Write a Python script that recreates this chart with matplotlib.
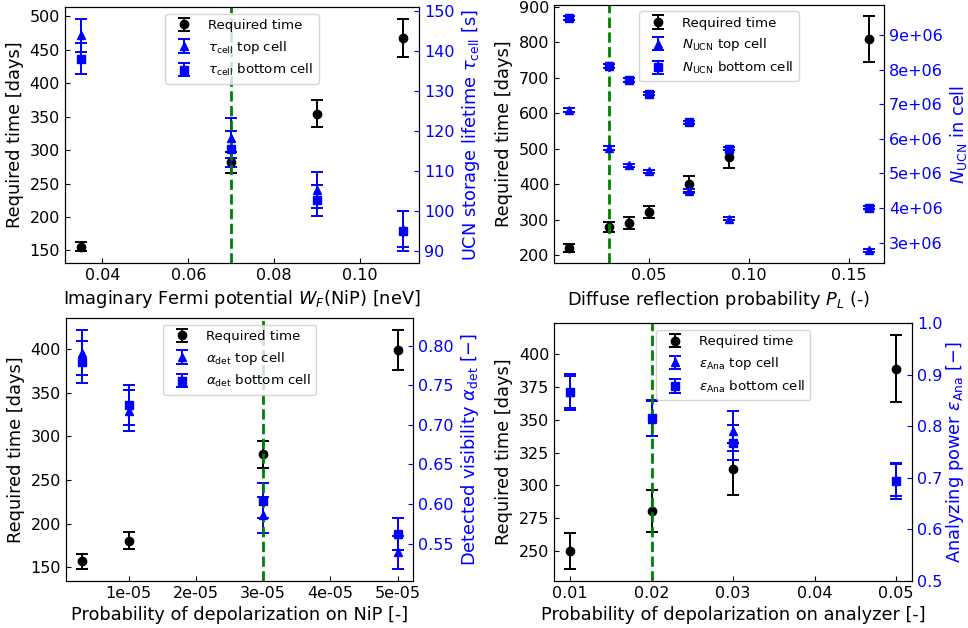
import numpy as np
import matplotlib
matplotlib.use("Agg")
import matplotlib.pyplot as plt
from matplotlib.ticker import FormatStrFormatter, MultipleLocator

# panel 1: imaginary Fermi potential
wf = [0.035, 0.07, 0.09, 0.11]
wf_time = [155.6, 281.5, 354.5, 467.5]
wf_time_err = [7, 15, 20, 29]
wf_top = [144.0, 118.3, 105.2, 95.5]
wf_top_err = [4.2, 5.1, 4.5, 4.5]
wf_bot = [138.2, 115.6, 102.7, 94.9]
wf_bot_err = [3.8, 4.5, 3.9, 5.0]

# panel 2: diffuse reflection probability
pl = [0.01, 0.03, 0.04, 0.05, 0.07, 0.09, 0.16]
pl_time = [221.5, 280, 291, 322, 400, 476.5, 809]
pl_time_err = [11, 15, 16, 18, 23, 30, 64]
pl_top = [6.83e6, 5.74e6, 5.23e6, 5.06e6, 4.49e6, 3.69e6, 2.78e6]
pl_top_err = [0.05e6, 0.05e6, 0.05e6, 0.05e6, 0.05e6, 0.05e6, 0.04e6]
pl_bot = [9.49e6, 8.11e6, 7.70e6, 7.31e6, 6.48e6, 5.72e6, 4.01e6]
pl_bot_err = [0.05e6, 0.05e6, 0.05e6, 0.05e6, 0.05e6, 0.05e6, 0.05e6]

# panel 3: depolarization on NiP
dn = [3e-6, 1e-5, 3e-5, 5e-5]
dn_time = [156.5, 180.5, 279.4, 399.2]
dn_time_err = [8.4, 9.5, 15.6, 23]
dn_top = [0.791, 0.718, 0.586, 0.539]
dn_top_err = [0.0287, 0.0264, 0.023, 0.0207]
dn_bot = [0.779, 0.7245, 0.604, 0.562]
dn_bot_err = [0.0265, 0.0253, 0.022, 0.020]

# panel 4: depolarization on analyzer
da = [0.01, 0.02, 0.03, 0.05]
da_time = [250, 280.3, 312.5, 388.8]
da_time_err = [13.7, 16, 20, 25.7]
da_top = [0.867, 0.815, 0.790, 0.696]
da_top_err = [0.031, 0.034, 0.039, 0.031]
da_bot = [0.866, 0.816, 0.768, 0.693]
da_bot_err = [0.035, 0.035, 0.034, 0.035]

TICK = 11.5
LABEL = 12.8
LEG = 9.6

fig = plt.figure(figsize=(9.68, 6.28), dpi=100)
positions = [
    [0.0671, 0.5812, 0.3657, 0.4076],
    [0.5723, 0.5807, 0.3409, 0.4118],
    [0.0679, 0.0753, 0.3591, 0.4183],
    [0.5723, 0.0753, 0.3701, 0.4099],
]

panels = [
    (wf, wf_time, wf_time_err, wf_top, wf_top_err, wf_bot, wf_bot_err, 0.07,
     r"Imaginary Fermi potential $W_F$(NiP) [neV]",
     r"UCN storage lifetime $\tau_\mathrm{cell}$ [s]", r"$\tau_\mathrm{cell}$"),
    (pl, pl_time, pl_time_err, pl_top, pl_top_err, pl_bot, pl_bot_err, 0.03,
     r"Diffuse reflection probability $P_L$ (-)",
     r"$N_\mathrm{UCN}$ in cell", r"$N_\mathrm{UCN}$"),
    (dn, dn_time, dn_time_err, dn_top, dn_top_err, dn_bot, dn_bot_err, 3e-5,
     "Probability of depolarization on NiP [-]",
     r"Detected visibility $\alpha_\mathrm{det}$ [$-$]", r"$\alpha_\mathrm{det}$"),
    (da, da_time, da_time_err, da_top, da_top_err, da_bot, da_bot_err, 0.02,
     "Probability of depolarization on analyzer [-]",
     r"Analyzing power $\varepsilon_\mathrm{Ana}$ [$-$]", r"$\varepsilon_\mathrm{Ana}$"),
]

for i, p in enumerate(panels):
    x, t, te, top, tope, bot, bote, nominal, xlabel, ylabel2, sym = p
    ax = fig.add_axes(positions[i])
    h1 = ax.errorbar(x, t, yerr=te, fmt="o", color="k", ecolor="k",
                     capsize=4, elinewidth=1.4, capthick=1.4, markersize=6)
    ax.set_xlabel(xlabel, fontsize=LABEL)
    ax.set_ylabel("Required time [days]", fontsize=LABEL)
    ax.tick_params(direction="in", labelsize=TICK)

    ax2 = ax.twinx()
    h2 = ax2.errorbar(x, top, yerr=tope, fmt="^", color="b", ecolor="b",
                      capsize=4, elinewidth=1.4, capthick=1.4, markersize=6)
    h3 = ax2.errorbar(x, bot, yerr=bote, fmt="s", color="b", ecolor="b",
                      capsize=4, elinewidth=1.4, capthick=1.4, markersize=6)
    ax2.axvline(nominal, color="g", linestyle="--", linewidth=2)
    ax2.set_ylabel(ylabel2, color="b", fontsize=LABEL,
                   labelpad=1 if i == 3 else 4)
    ax2.tick_params(direction="in", labelsize=TICK, colors="b")
    ax2.spines["right"].set_color("k")
    ax2.legend([h1, h2, h3],
               ["Required time", sym + " top cell", sym + " bottom cell"],
               loc="upper center", fontsize=LEG)

    if i == 1:
        ax2.yaxis.set_major_formatter(FormatStrFormatter("%.0e"))
    if i == 2:
        ax.xaxis.set_major_locator(MultipleLocator(1e-5))
        ax.xaxis.set_major_formatter(FormatStrFormatter("%.0e"))
    if i == 3:
        ax2.set_ylim(0.5, 1.0)

plt.savefig("out.png", dpi=100)
plt.close()
